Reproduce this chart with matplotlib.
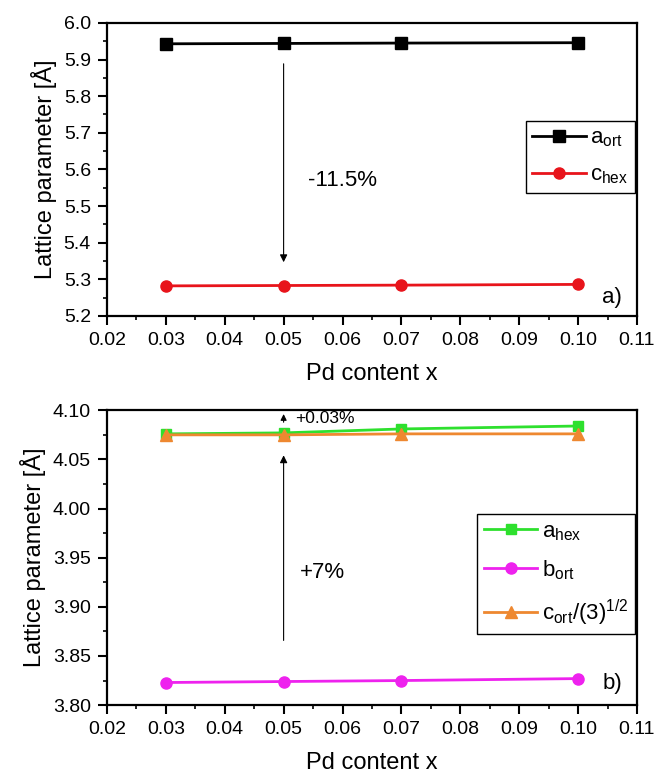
import matplotlib
matplotlib.use("Agg")
import matplotlib.pyplot as plt
from matplotlib.ticker import MultipleLocator, FormatStrFormatter

plt.rcParams["font.family"] = ["Liberation Sans", "DejaVu Sans"]
plt.rcParams["mathtext.default"] = "regular"

x = [0.03, 0.05, 0.07, 0.10]
a_ort = [5.943, 5.944, 5.945, 5.946]
c_hex = [5.282, 5.283, 5.284, 5.286]
a_hex = [4.076, 4.077, 4.081, 4.084]
b_ort = [3.823, 3.824, 3.825, 3.827]
c_ort_s3 = [4.075, 4.075, 4.076, 4.076]


def style_axes(ax, ylim, ymaj, yfmt):
    ax.set_xlim(0.02, 0.11)
    ax.set_ylim(*ylim)
    ax.xaxis.set_major_locator(MultipleLocator(0.01))
    ax.xaxis.set_minor_locator(MultipleLocator(0.005))
    ax.yaxis.set_major_locator(MultipleLocator(ymaj))
    ax.yaxis.set_minor_locator(MultipleLocator(ymaj / 2))
    ax.xaxis.set_major_formatter(FormatStrFormatter("%.2f"))
    ax.yaxis.set_major_formatter(FormatStrFormatter(yfmt))
    ax.tick_params(which="major", direction="out", length=6.5, width=1.5,
                   labelsize=14, pad=5)
    ax.tick_params(which="minor", direction="out", length=3, width=1.2)
    for s in ax.spines.values():
        s.set_linewidth(1.6)
    ax.set_xlabel("Pd content x", fontsize=17, labelpad=10)
    ax.set_ylabel("Lattice parameter [Å]", fontsize=17, labelpad=5)


fig = plt.figure(figsize=(6.56, 7.8), dpi=100)
ax1 = fig.add_axes([0.163, 0.595, 0.808, 0.3756])
ax2 = fig.add_axes([0.163, 0.096, 0.808, 0.378])

arrow = dict(arrowstyle="-|>", color="black", lw=0.8, mutation_scale=11)
leg_kw = dict(loc="upper right", borderaxespad=0, fontsize=16, frameon=True,
              fancybox=False, edgecolor="black", framealpha=1, handlelength=2.4,
              handletextpad=0.2, borderpad=0.3, labelspacing=0.7)

# panel a
ax1.plot(x, a_ort, "s-", color="black", lw=2, ms=8, label="a$_{ort}$")
ax1.plot(x, c_hex, "o-", color="#e8141b", lw=2, ms=8, label="c$_{hex}$")
style_axes(ax1, (5.2, 6.0), 0.1, "%.1f")
ax1.annotate("", xy=(0.05, 5.339), xytext=(0.05, 5.896), arrowprops=arrow)
ax1.text(0.0541, 5.57, "-11.5%", fontsize=16, va="center")
ax1.text(0.1075, 5.249, "a)", fontsize=16, ha="right", va="center")
ax1.legend(bbox_to_anchor=(0.996, 0.666), **leg_kw)

# panel b
ax2.plot(x, a_hex, "s-", color="#2ee02e", lw=2, ms=7, label="a$_{hex}$")
ax2.plot(x, b_ort, "o-", color="#ee22ee", lw=2, ms=8, label="b$_{ort}$")
ax2.plot(x, c_ort_s3, "^-", color="#ee8830", lw=2, ms=8,
         label="c$_{ort}$/(3)$^{1/2}$")
style_axes(ax2, (3.80, 4.10), 0.05, "%.2f")
ax2.annotate("", xy=(0.05, 4.057), xytext=(0.05, 3.863), arrowprops=arrow)
ax2.annotate("", xy=(0.05, 4.099), xytext=(0.05, 4.085),
             arrowprops=dict(arrowstyle="-|>", color="black", lw=0.8, mutation_scale=9))
ax2.text(0.0527, 3.935, "+7%", fontsize=16, va="center")
ax2.text(0.0519, 4.092, "+0.03%", fontsize=12.5, va="center")
ax2.text(0.1075, 3.822, "b)", fontsize=16, ha="right", va="center")
ax2.legend(bbox_to_anchor=(0.996, 0.647), **leg_kw)

fig.savefig("out.png", dpi=100)
